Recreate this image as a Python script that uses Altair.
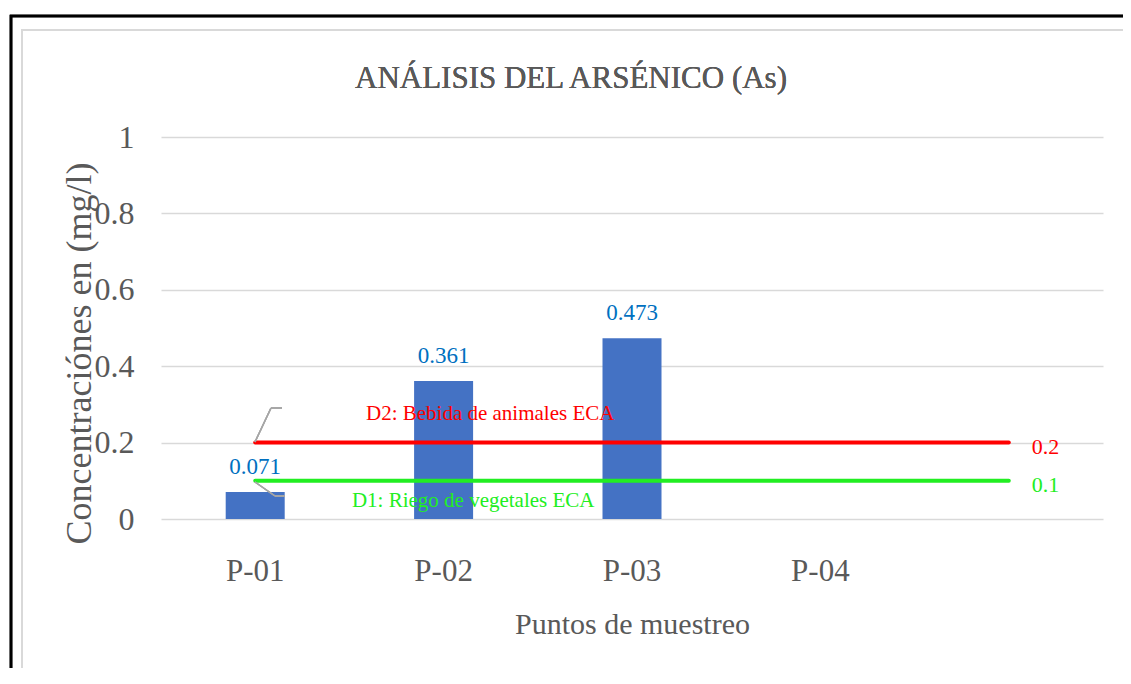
import altair as alt
import pandas as pd

# ---- data ----
puntos = ["P-01", "P-02", "P-03", "P-04", "P-05"]
muestras = ["P-01", "P-02", "P-03"]
arsenico = [0.071, 0.361, 0.473]
limites_nombre = ["D2: Bebida de animales ECA", "D1: Riego de vegetales ECA"]
limites_valor = [0.2, 0.1]
limites_color = ["#ff0000", "#22ee22"]
y_ticks = [0, 0.2, 0.4, 0.6, 0.8, 1]
titulo = "ANÁLISIS DEL ARSÉNICO (As)"
titulo_y = "Concentraciónes en (mg/l)"
titulo_x = "Puntos de muestreo"

FONT = "Liberation Serif"
GRAY = "#595959"

bars_df = pd.DataFrame({"punto": muestras, "valor": arsenico})
lines_df = pd.DataFrame(
    [{"punto": p, "limite": n, "valor": v}
     for n, v in zip(limites_nombre, limites_valor) for p in puntos]
)
ends_df = pd.DataFrame({"punto": [puntos[-1]] * 2, "limite": limites_nombre, "valor": limites_valor})
starts_df = pd.DataFrame({"punto": [puntos[0]] * 2, "limite": limites_nombre, "valor": limites_valor})

x_enc = alt.X(
    "punto:N",
    sort=puntos,
    scale=alt.Scale(domain=puntos, paddingInner=0, paddingOuter=0),
    axis=alt.Axis(
        title=titulo_x,
        labelExpr="datum.value == 'P-05' ? '' : datum.value",
        labelAngle=0,
        labelFont=FONT, labelFontSize=31, labelColor=GRAY,
        labelBaseline="alphabetic", labelPadding=61,
        titleFont=FONT, titleFontSize=30, titleColor=GRAY, titleFontWeight="normal",
        titleBaseline="alphabetic", titleY=114, titleX=471, titleAlign="center",
        domain=False, ticks=False, grid=False,
    ),
)
y_enc = alt.Y(
    "valor:Q",
    scale=alt.Scale(domain=[0, 1]),
    axis=alt.Axis(
        title=titulo_y,
        values=y_ticks, format="~g",
        labelFont=FONT, labelFontSize=32, labelColor=GRAY, labelPadding=27,
        titleFont=FONT, titleFontSize=36, titleColor=GRAY, titleFontWeight="normal",
        titleAngle=-90, titleBaseline="alphabetic", titleAlign="center",
        titleX=-71, titleY=216,
        domain=False, ticks=False,
        grid=True, gridColor="#d9d9d9", gridWidth=1.5,
    ),
)
color_enc = alt.Color(
    "limite:N", scale=alt.Scale(domain=limites_nombre, range=limites_color), legend=None
)

bars = alt.Chart(bars_df).mark_bar(size=59, color="#4472C4").encode(x=x_enc, y=y_enc)
bar_labels = alt.Chart(bars_df).mark_text(
    font=FONT, fontSize=23, color="#0070C0", baseline="alphabetic", dy=-18
).encode(x="punto:N", y="valor:Q", text=alt.Text("valor:Q", format=".3f"))

lines = alt.Chart(lines_df).mark_line(strokeWidth=4, strokeCap="round").encode(
    x="punto:N", y="valor:Q", color=color_enc, detail="limite:N"
)
end_labels = alt.Chart(ends_df).mark_text(
    font=FONT, fontSize=22, align="left", baseline="middle", dx=23, dy=4
).encode(x="punto:N", y="valor:Q", text=alt.Text("valor:Q", format=".1f"), color=color_enc)

d2_label = alt.Chart(starts_df).transform_filter(
    alt.datum.limite == limites_nombre[0]
).mark_text(font=FONT, fontSize=21, baseline="alphabetic", dx=235, dy=-23).encode(
    x="punto:N", y="valor:Q", text="limite:N", color=color_enc
)
d1_label = alt.Chart(starts_df).transform_filter(
    alt.datum.limite == limites_nombre[1]
).mark_text(font=FONT, fontSize=21, baseline="alphabetic", dx=218, dy=26).encode(
    x="punto:N", y="valor:Q", text="limite:N", color=color_enc
)

# leader lines of the callouts
lead_style = dict(color="#a6a6a6", strokeWidth=1.5)
lead1 = alt.Chart(bars_df).mark_rule(**lead_style).encode(
    x=alt.value(94), y=alt.value(305), x2=alt.value(110), y2=alt.value(271))
lead2 = alt.Chart(bars_df).mark_rule(**lead_style).encode(
    x=alt.value(110), y=alt.value(271), x2=alt.value(121), y2=alt.value(271))
lead3 = alt.Chart(bars_df).mark_rule(**lead_style).encode(
    x=alt.value(94), y=alt.value(345), x2=alt.value(114), y2=alt.value(359))
lead4 = alt.Chart(bars_df).mark_rule(**lead_style).encode(
    x=alt.value(114), y=alt.value(359), x2=alt.value(124), y2=alt.value(359))

# frames around the chart
outer = alt.Chart(bars_df).mark_rect(fillOpacity=0, stroke="black", strokeWidth=2.5).encode(
    x=alt.value(-150), x2=alt.value(1200), y=alt.value(-121), y2=alt.value(700))
inner = alt.Chart(bars_df).mark_rect(fillOpacity=0, stroke="#d9d9d9", strokeWidth=2).encode(
    x=alt.value(-139), x2=alt.value(1200), y=alt.value(-107), y2=alt.value(538))

title = alt.Chart(bars_df).mark_text(
    text=titulo, font=FONT, fontSize=31, color=GRAY, align="center", baseline="alphabetic"
).encode(x=alt.value(410), y=alt.value(-49))

chart = alt.layer(
    outer, inner, title, bars, bar_labels, lines, end_labels,
    lead1, lead2, lead3, lead4, d2_label, d1_label,
).properties(
    width=942, height=382,
    autosize=alt.AutoSizeParams(type="none"),
    padding={"left": 153, "top": 129, "right": 20, "bottom": 149},
    background="white",
).configure_view(stroke=None)

chart.save("out.html", embed_options={"renderer": "svg", "actions": False})
